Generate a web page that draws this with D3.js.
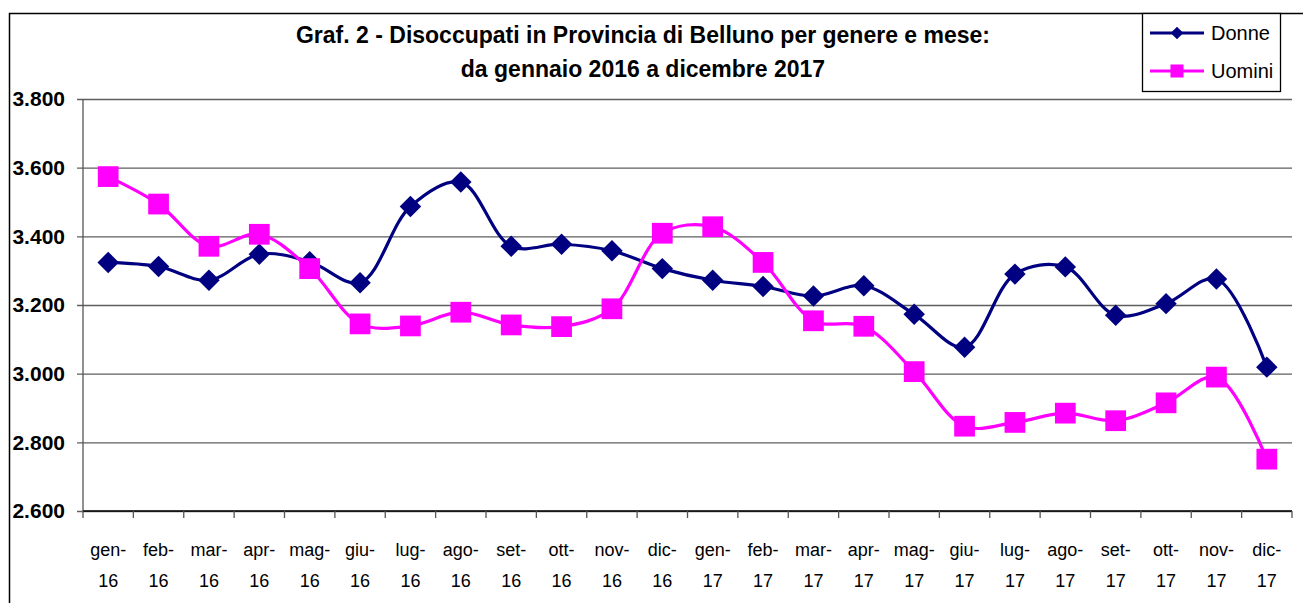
<!DOCTYPE html>
<html>
<head>
<meta charset="utf-8">
<script src="https://cdn.jsdelivr.net/npm/d3@7"></script>
<style>
  body { margin: 0; background: #fff; }
  text { font-family: "Liberation Sans", Arial, sans-serif; }
</style>
</head>
<body>
<svg id="chart"></svg>
<script>
// months shown on the x axis (two-line labels)
const months = ['gen-16','feb-16','mar-16','apr-16','mag-16','giu-16','lug-16','ago-16','set-16','ott-16','nov-16','dic-16',
  'gen-17','feb-17','mar-17','apr-17','mag-17','giu-17','lug-17','ago-17','set-17','ott-17','nov-17','dic-17'];

const donne = [3324, 3312, 3272, 3348, 3326, 3265, 3487, 3558, 3371, 3377, 3358, 3306,
  3272, 3254, 3226, 3256, 3173, 3077, 3290, 3311, 3170, 3204, 3276, 3019];

const uomini = [3574, 3494, 3371, 3406, 3306, 3145, 3139, 3179, 3142, 3137, 3189, 3409,
  3428, 3324, 3154, 3138, 3006, 2847, 2858, 2885, 2863, 2915, 2990, 2751];

const yTicks = [2600, 2800, 3000, 3200, 3400, 3600, 3800];

const titleLines = ['Graf. 2 - Disoccupati in Provincia di Belluno per genere e mese:',
  'da gennaio 2016 a dicembre 2017'];

const seriesNames = ['Donne', 'Uomini'];

(function () {
  const W = 1303, H = 603;
  const svg = d3.select('#chart').attr('width', W).attr('height', H);

  const margin = {left: 83, top: 99, right: 11, bottom: 92};
  const innerWidth = W - margin.left - margin.right;
  const innerHeight = H - margin.top - margin.bottom;

  const itLocale = d3.formatLocale({decimal: ',', thousands: '.', grouping: [3], currency: ['', '€']});
  const fmt = itLocale.format(',.0f');

  // diamond = square turned 45 degrees
  const diamond = {
    draw(ctx, size) {
      const r = Math.sqrt(size / 2);
      ctx.moveTo(0, -r); ctx.lineTo(r, 0); ctx.lineTo(0, r); ctx.lineTo(-r, 0); ctx.closePath();
    }
  };

  // outer chart frame
  svg.append('rect')
    .attr('x', 9.5).attr('y', 13.5)
    .attr('width', W + 20).attr('height', H + 20)
    .attr('fill', 'none').attr('stroke', '#000').attr('stroke-width', 1.5);

  // title
  svg.append('text')
    .attr('text-anchor', 'middle')
    .style('font-size', '23px').style('font-weight', 'bold')
    .selectAll('tspan').data(titleLines).enter()
    .append('tspan')
      .attr('x', 643)
      .attr('y', (d, i) => i === 0 ? 43 : 77)
      .text(d => d);

  const g = svg.append('g')
    .attr('transform', `translate(${margin.left}, ${margin.top})`);

  const x = d3.scaleBand()
    .domain(months)
    .range([0, innerWidth]);

  const y = d3.scaleLinear()
    .domain([2600, 3800])
    .range([innerHeight, 0]);

  // gridlines + y axis
  const yAxis = d3.axisLeft(y)
    .tickValues(yTicks)
    .tickSize(-innerWidth)
    .tickPadding(18)
    .tickFormat(fmt);

  const yAxisG = g.append('g').call(yAxis);
  yAxisG.select('.domain').remove();
  yAxisG.selectAll('.tick line')
    .attr('stroke', '#5e5e5e').attr('stroke-width', 1.3)
    .attr('x1', -6);
  yAxisG.selectAll('.tick text')
    .style('font-size', '21px').style('font-weight', 'bold')
    .attr('fill', '#000');

  // left axis line
  g.append('line')
    .attr('x1', 0).attr('x2', 0)
    .attr('y1', 0).attr('y2', innerHeight)
    .attr('stroke', '#555').attr('stroke-width', 1.3);

  // x axis: ticks on category boundaries
  const xAxisG = g.append('g').attr('transform', `translate(0, ${innerHeight})`);
  xAxisG.append('line')
    .attr('x1', 0).attr('x2', innerWidth)
    .attr('stroke', '#000').attr('stroke-width', 1.3);
  xAxisG.selectAll('line.tk')
    .data(months.concat(['end'])).enter()
    .append('line')
      .attr('class', 'tk')
      .attr('x1', (d, i) => i * x.bandwidth())
      .attr('x2', (d, i) => i * x.bandwidth())
      .attr('y1', 0).attr('y2', 7)
      .attr('stroke', '#555').attr('stroke-width', 1.3);

  const xLab = xAxisG.selectAll('text.xl')
    .data(months).enter()
    .append('text')
      .attr('class', 'xl')
      .attr('text-anchor', 'middle')
      .style('font-size', '18px');
  xLab.append('tspan')
    .attr('x', d => x(d) + x.bandwidth() / 2)
    .attr('y', 45)
    .text(d => d.split('-')[0] + '-');
  xLab.append('tspan')
    .attr('x', d => x(d) + x.bandwidth() / 2)
    .attr('y', 76)
    .text(d => d.split('-')[1]);

  const cx = (d, i) => x(months[i]) + x.bandwidth() / 2;

  const line = d3.line()
    .x(cx)
    .y(d => y(d))
    .curve(d3.curveCatmullRom.alpha(0.5));

  const series = [
    {name: seriesNames[0], values: donne, color: '#000080', symbol: diamond, size: 230, legSize: 80},
    {name: seriesNames[1], values: uomini, color: '#ff00ff', symbol: d3.symbolSquare, size: 430, legSize: 170}
  ];

  series.forEach(s => {
    g.append('path')
      .datum(s.values)
      .attr('d', line)
      .attr('fill', 'none')
      .attr('stroke', s.color)
      .attr('stroke-width', 3.2);

    g.selectAll(null)
      .data(s.values).enter()
      .append('path')
        .attr('d', d3.symbol().type(s.symbol).size(s.size))
        .attr('transform', (d, i) => `translate(${cx(d, i)}, ${y(d)})`)
        .attr('fill', s.color);
  });

  // legend
  const lg = svg.append('g').attr('transform', 'translate(1142, 13)');
  lg.append('rect')
    .attr('x', 0.5).attr('y', 0.5)
    .attr('width', 138).attr('height', 78)
    .attr('fill', '#fff').attr('stroke', '#000').attr('stroke-width', 1.3);

  series.forEach((s, i) => {
    const ly = 20 + i * 38;
    lg.append('line')
      .attr('x1', 8).attr('x2', 62)
      .attr('y1', ly).attr('y2', ly)
      .attr('stroke', s.color).attr('stroke-width', 3.2);
    lg.append('path')
      .attr('d', d3.symbol().type(s.symbol).size(s.legSize))
      .attr('transform', `translate(35, ${ly})`)
      .attr('fill', s.color);
    lg.append('text')
      .attr('x', 69).attr('y', ly + 7)
      .style('font-size', '20px')
      .text(s.name);
  });
})();
</script>
</body>
</html>
